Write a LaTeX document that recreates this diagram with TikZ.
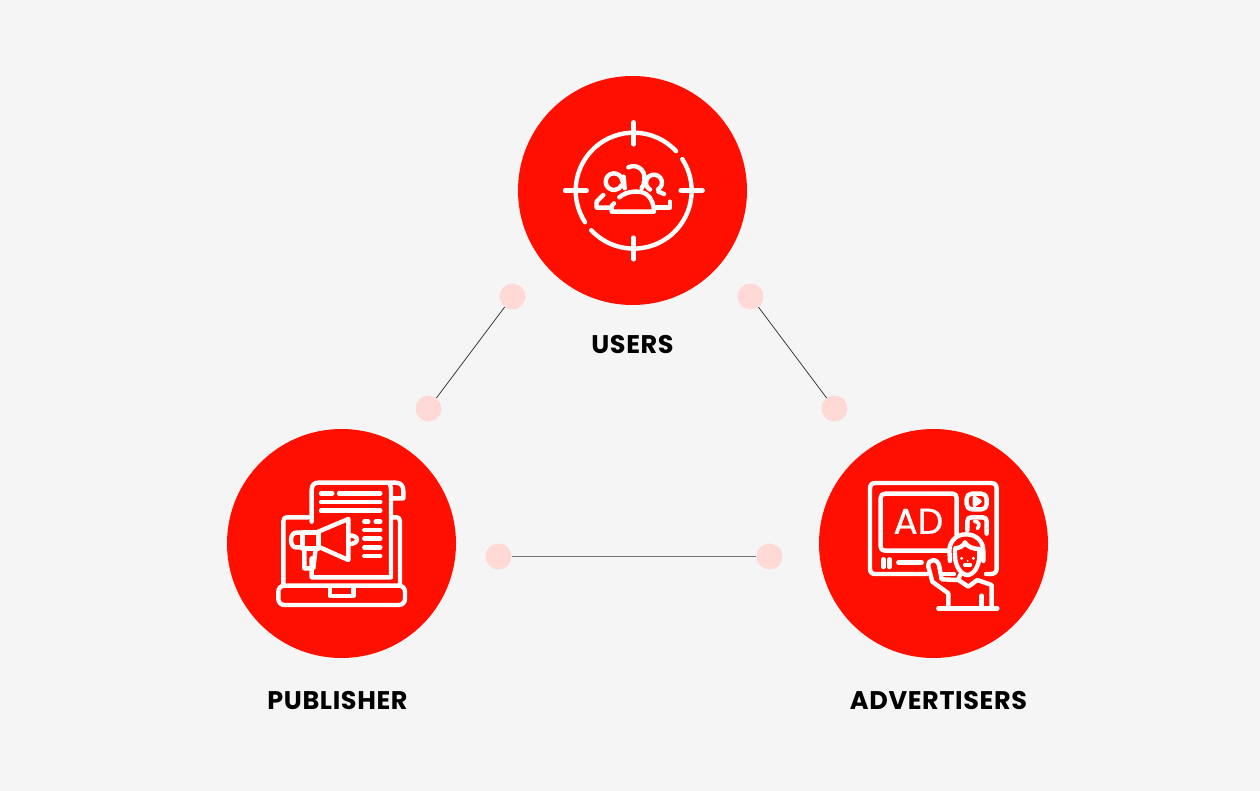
\documentclass[tikz,border=0pt]{standalone}
\usepackage{fontspec}
\setmainfont{Poppins}
\usetikzlibrary{positioning}
\definecolor{bgcol}{HTML}{F5F5F5}
\definecolor{hubred}{HTML}{FF0F00}
\definecolor{dotpink}{HTML}{FFD9D6}
\tikzset{
  hub/.style={circle,fill=hubred,minimum size=229pt,inner sep=0pt},
  dot/.style={circle,fill=dotpink,minimum size=26pt,inner sep=0pt},
  hublabel/.style={font=\bfseries\fontsize{25.5}{26}\selectfont\addfontfeature{LetterSpace=2.5},text=black,inner sep=0pt},
  link/.style={draw=black!85,line width=0.7pt},
  icon/.style={draw=white,line width=4.4pt,line cap=round,line join=round},
  thin icon/.style={icon,line width=3.6pt},
  zoomed/.style={x=0.3333pt,y=-0.3333pt}
}
\begin{document}
\begin{tikzpicture}[x=1pt,y=-1pt]
  \fill[bgcol] (0,0) rectangle (1260,791);
  \useasboundingbox (0,0) rectangle (1260,791);

  \node[hub] (users) at (632.5,190.5) {};
  \node[hub] (publisher) at (341.5,543.5) {};
  \node[hub] (advertisers) at (933.5,543.5) {};

  \node[hublabel] (userslabel) at (632.5,344.5) {USERS};
  \node[hublabel] (publisherlabel) at (337.5,700.5) {PUBLISHER};
  \node[hublabel] (advertiserslabel) at (938.5,700.5) {ADVERTISERS};

  \node[dot] (ua) at (512.5,296.5) {};
  \node[dot] (pa) at (428.5,408.5) {};
  \node[dot] (ub) at (750.5,296.5) {};
  \node[dot] (ab) at (834.5,408.5) {};
  \node[dot] (pc) at (498.5,556.5) {};
  \node[dot] (ac) at (769.5,556.5) {};

  \draw[link] (ua) -- (pa);
  \draw[link] (ub) -- (ab);
  \draw[link,draw=black!55] (pc) -- (ac);

  % users icon
  \begin{scope}[shift={(550,105)},zoomed]
    \draw[icon] (251,257) ++(-43:174) arc (-43:-213:174);
    \draw[icon] (251,257) ++(-223:174) arc (-223:-393:174);
    \draw[icon] (251,52) -- (251,118);
    \draw[icon] (251,398) -- (251,463);
    \draw[icon] (45,257) -- (110,257);
    \draw[icon] (392,257) -- (458,257);
  \end{scope}
  \begin{scope}[shift={(590,160)},zoomed]
    \draw[icon] (96.9,62.8) arc (-5:-335:25);
    \draw[icon] (115,22) .. controls (140,10) and (168,30) .. (163,60) .. controls (162,70) and (160,78) .. (155,85);
    \draw[icon] (101,50) -- (104,85);
    \draw[icon] (180,88.8) arc (-240:60:24);
    \draw[icon] (205,95) -- (222,102);
    \draw[icon] (88,112) .. controls (110,92) and (150,90) .. (170,103) .. controls (185,115) and (192,135) .. (192,155) -- (65,155) -- (65,138) -- (72,130);
    \draw[icon] (40,105) -- (20,125) -- (20,143) -- (60,143);
    \draw[icon] (198,143) -- (240,143) -- (240,125);
  \end{scope}

  % publisher icon
  \begin{scope}[shift={(265,470)},zoomed]
    \draw[icon] (130,142) -- (68,142) .. controls (58,142) and (55,146) .. (55,155) -- (55,345);
    \draw[icon] (378,142) -- (392,142) .. controls (402,142) and (405,146) .. (405,155) -- (405,345);
    \draw[icon,rounded corners=6pt] (40,347) rectangle (420,405);
    \draw[icon] (195,350) -- (195,378) -- (265,378) -- (265,350);
    \draw[icon] (140,155) -- (140,60) .. controls (140,45) and (148,38) .. (160,38) -- (392,38) .. controls (408,38) and (415,48) .. (415,62) -- (415,85) -- (382,85);
    \draw[icon] (375,45) .. controls (378,50) and (378,55) .. (378,62) -- (378,322) -- (140,322) -- (140,265);
    \draw[icon] (168,70) -- (202,70);
    \draw[icon] (222,70) -- (346,70);
    \draw[icon] (168,96) -- (346,96);
    \draw[icon] (168,122) -- (346,122);
    \draw[icon] (298,155) -- (310,155);
    \draw[icon] (332,155) -- (346,155);
    \foreach \ly in {180,206,232,258} {
      \draw[icon] (298,\ly) -- (346,\ly);
    }
    \draw[icon] (112,188) rectangle (160,235);
    \draw[icon] (160,185) -- (250,147) -- (250,270) -- (160,230);
    \draw[icon] (112,188) -- (92,188) .. controls (82,190) and (78,200) .. (78,210) .. controls (78,222) and (84,232) .. (92,232) -- (112,232);
    \draw[icon] (252,196) .. controls (268,196) and (276,202) .. (276,209) .. controls (276,216) and (268,222) .. (252,222);
    \draw[icon] (118,235) -- (118,295) -- (145,295) -- (152,235);
  \end{scope}

  % advertisers icon
  \begin{scope}[shift={(860,472)},zoomed]
    \draw[icon] (200,306) -- (45,306) .. controls (35,306) and (30,300) .. (30,290) -- (30,50) .. controls (30,38) and (36,33) .. (46,33) -- (392,33) .. controls (404,33) and (410,38) .. (410,50) -- (410,290) .. controls (410,300) and (404,306) .. (392,306) -- (378,306);
    \draw[icon] (245,306) -- (282,306);
    \draw[icon] (265,236) -- (75,236) .. controls (66,236) and (62,232) .. (62,224) -- (62,78) .. controls (62,70) and (66,65) .. (75,65) -- (278,65) .. controls (286,65) and (290,70) .. (290,78) -- (290,190);
    \node[text=white,font=\fontsize{36}{36}\selectfont\addfontfeature{FakeBold=0.6},inner sep=0pt] (adtext) at (175,148) {AD};
    \draw[icon,rounded corners=5pt] (320,65) rectangle (380,112);
    \draw[thin icon] (343,76) -- (360,88) -- (343,100) -- cycle;
    \draw[icon] (322,175) -- (322,148) .. controls (322,140) and (326,136) .. (334,136) -- (368,136) .. controls (376,136) and (380,140) .. (380,148) -- (380,185);
    \draw[thin icon] (343,148) .. controls (358,148) and (360,160) .. (352,170);
    \draw[icon] (70,262) -- (70,285);
    \draw[icon] (88,262) -- (88,285);
    \draw[icon] (115,272) -- (185,272);
  \end{scope}
  \begin{scope}[shift={(920,525)},zoomed]
    \draw[icon] (90,108) -- (88,75) .. controls (90,45) and (112,28) .. (138,28) .. controls (168,28) and (190,48) .. (190,78) -- (190,108);
    \draw[icon] (105,92) -- (105,70) .. controls (118,70) and (132,62) .. (135,52) .. controls (142,66) and (160,72) .. (178,72) -- (178,92);
    \draw[icon] (105,92) .. controls (105,125) and (125,150) .. (142,150) .. controls (160,150) and (178,125) .. (178,92);
    \fill[white] (125,100) circle (5) (160,100) circle (5) (143,108) circle (3);
    \draw[thin icon] (134,120) -- (151,120);
    \draw[icon] (85,250) -- (85,205) -- (37,170) -- (25,125) .. controls (22,100) and (55,98) .. (58,125) -- (65,163) -- (115,165) -- (145,185) -- (172,165) -- (215,180) -- (215,250);
    \draw[icon] (120,150) -- (115,165);
    \draw[icon] (185,212) -- (185,250);
    \draw[icon] (55,250) -- (232,250);
  \end{scope}
\end{tikzpicture}
\end{document}
